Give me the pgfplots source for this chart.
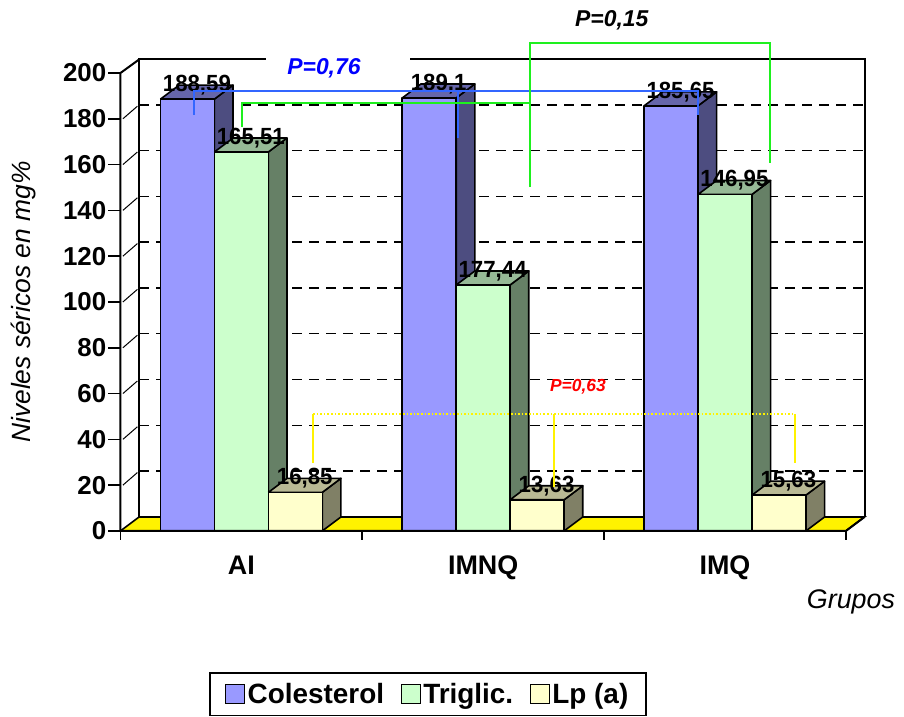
\documentclass[border=0pt]{standalone}
\usepackage{fontspec}
\setmainfont{Liberation Sans}
\usepackage{pgfplots}
\pgfplotsset{compat=1.18}

\definecolor{colF}{RGB}{153,153,255}
\definecolor{colS}{RGB}{77,77,128}
\definecolor{colT}{RGB}{102,102,170}
\definecolor{triF}{RGB}{204,255,204}
\definecolor{triS}{RGB}{102,128,102}
\definecolor{triT}{RGB}{150,185,150}
\definecolor{lpF}{RGB}{255,255,204}
\definecolor{lpS}{RGB}{128,128,102}
\definecolor{lpT}{RGB}{185,185,148}
\definecolor{pblue}{RGB}{51,102,255}
\definecolor{pgreen}{RGB}{30,240,30}

\newcommand{\dx}{0.077}
\newcommand{\dy}{6.1}
\newcommand{\bw}{0.2231}

% #1 left x, #2 height, #3 front, #4 side, #5 top
\newcommand{\cuboid}[5]{%
  \pgfmathsetmacro\xa{#1}%
  \pgfmathsetmacro\xb{#1+\bw}%
  \pgfmathsetmacro\xc{#1+\bw+\dx}%
  \pgfmathsetmacro\xd{#1+\dx}%
  \pgfmathsetmacro\yt{#2+\dy}%
  \addplot[fill=#4, draw=black, line width=1.6bp, line join=round] coordinates {(\xb,0) (\xb,#2) (\xc,\yt) (\xc,\dy) (\xb,0)};
  \addplot[fill=#5, draw=black, line width=1.6bp, line join=round] coordinates {(\xa,#2) (\xb,#2) (\xc,\yt) (\xd,\yt) (\xa,#2)};
  \addplot[fill=#3, draw=black, line width=1.6bp, line join=round] coordinates {(\xa,0) (\xa,#2) (\xb,#2) (\xb,0) (\xa,0)};
}

\begin{document}
\begin{tikzpicture}
\begin{axis}[
  name=ax,
  scale only axis, width=725.5bp, height=458bp,
  xmin=-0.5, xmax=2.5, ymin=0, ymax=200,
  clip=false,
  axis line style={draw=none},
  ytick={0,20,...,200}, ytick pos=left, tick align=outside,
  ytick style={black, line width=1.6bp}, major tick length=12bp,
  xtick={0,1,2}, xticklabels={AI,IMNQ,IMQ}, xtick style={draw=none}, xtick pos=bottom,
  /pgf/number format/assume math mode=true,
  yticklabel style={font=\bfseries\fontsize{26}{26}\selectfont, anchor=east, inner sep=0pt, xshift=-2bp},
  xticklabel style={font=\bfseries\fontsize{27}{27}\selectfont, anchor=base, inner sep=0pt, yshift=-32bp},
  ylabel={Niveles séricos en mg\%},
  every axis y label/.style={at={(axis description cs:-0.133,0.5)}, rotate=90, anchor=center, font=\itshape\fontsize{26.5}{26.5}\selectfont},
  xlabel={Grupos},
  every axis x label/.style={at={(axis description cs:1.007,-0.155)}, anchor=center, font=\itshape\fontsize{27}{27}\selectfont},
  legend style={at={(axis description cs:0.4238,-0.308)}, anchor=north, draw=black, line width=1.6bp,
    font=\bfseries\fontsize{28}{28}\selectfont, inner xsep=15bp, inner ysep=8bp,
    nodes={inner sep=2.5bp},
    /tikz/every even column/.append style={column sep=14bp}},
  legend columns=3,
  legend image code/.code={\draw[#1, draw=black, line width=1.2bp] (0bp,-9bp) rectangle (19bp,10bp);},
]
\addlegendimage{fill=colF}\addlegendentry{Colesterol}
\addlegendimage{fill=triF}\addlegendentry{Triglic.}
\addlegendimage{fill=lpF}\addlegendentry{Lp (a)}

% floor
\addplot[fill=yellow, draw=black, line width=1.6bp] coordinates {(-0.5,0) (2.5,0) (2.577,6.1) (-0.423,6.1) (-0.5,0)};
% back wall gridlines
\addplot[black, line width=1.4bp, dash pattern=on 10bp off 7bp] coordinates {(-0.423,26.1) (2.577,26.1)};
\addplot[black, line width=1.4bp, dash pattern=on 10bp off 7bp] coordinates {(-0.423,46.1) (2.577,46.1)};
\addplot[black, line width=1.4bp, dash pattern=on 10bp off 7bp] coordinates {(-0.423,66.1) (2.577,66.1)};
\addplot[black, line width=1.4bp, dash pattern=on 10bp off 7bp] coordinates {(-0.423,86.1) (2.577,86.1)};
\addplot[black, line width=1.4bp, dash pattern=on 10bp off 7bp] coordinates {(-0.423,106.1) (2.577,106.1)};
\addplot[black, line width=1.4bp, dash pattern=on 10bp off 7bp] coordinates {(-0.423,126.1) (2.577,126.1)};
\addplot[black, line width=1.4bp, dash pattern=on 10bp off 7bp] coordinates {(-0.423,146.1) (2.577,146.1)};
\addplot[black, line width=1.4bp, dash pattern=on 10bp off 7bp] coordinates {(-0.423,166.1) (2.577,166.1)};
\addplot[black, line width=1.4bp, dash pattern=on 10bp off 7bp] coordinates {(-0.423,186.1) (2.577,186.1)};
% diagonal tick connectors
\addplot[black, line width=1bp] coordinates {(-0.49,20) (-0.43,25.5)};
\addplot[black, line width=1bp] coordinates {(-0.49,40) (-0.43,45.5)};
\addplot[black, line width=1bp] coordinates {(-0.49,60) (-0.43,65.5)};
\addplot[black, line width=1bp] coordinates {(-0.49,80) (-0.43,85.5)};
\addplot[black, line width=1bp] coordinates {(-0.49,100) (-0.43,105.5)};
\addplot[black, line width=1bp] coordinates {(-0.49,120) (-0.43,125.5)};
\addplot[black, line width=1bp] coordinates {(-0.49,140) (-0.43,145.5)};
\addplot[black, line width=1bp] coordinates {(-0.49,160) (-0.43,165.5)};
\addplot[black, line width=1bp] coordinates {(-0.49,180) (-0.43,185.5)};
% back wall frame
\addplot[black, line width=2bp] coordinates {(-0.423,6.1) (-0.423,205.9) (2.577,205.9) (2.577,6.1)};

% bars: AI
\cuboid{-0.3347}{188.59}{colF}{colS}{colT}
\cuboid{-0.1116}{165.51}{triF}{triS}{triT}
\cuboid{0.1116}{16.85}{lpF}{lpS}{lpT}
% IMNQ
\cuboid{0.6653}{189.1}{colF}{colS}{colT}
\cuboid{0.8884}{107.44}{triF}{triS}{triT}
\cuboid{1.1116}{13.63}{lpF}{lpS}{lpT}
% IMQ
\cuboid{1.6653}{185.65}{colF}{colS}{colT}
\cuboid{1.8884}{146.95}{triF}{triS}{triT}
\cuboid{2.1116}{15.63}{lpF}{lpS}{lpT}

% front axis lines
\addplot[black, line width=2bp] coordinates {(-0.5,0) (-0.5,200) (-0.423,205.9)};
\addplot[black, line width=2bp] coordinates {(-0.5,0) (2.5,0) (2.577,6.1)};
\addplot[black, line width=1.6bp] coordinates {(-0.5,0) (-0.5,-3.8)};
\addplot[black, line width=1.6bp] coordinates {(0.5,0) (0.5,-3.8)};
\addplot[black, line width=1.6bp] coordinates {(1.5,0) (1.5,-3.8)};
\addplot[black, line width=1.6bp] coordinates {(2.5,0) (2.5,-3.8)};

% data labels
\tikzset{dlabel/.style={font=\bfseries\fontsize{23.5}{23.5}\selectfont, inner sep=0pt}}
\node[dlabel] at (axis cs:-0.184,194.69) {\scalebox{0.95}[1]{188,59}};
\node[dlabel] at (axis cs:0.039,171.61) {\scalebox{0.95}[1]{165,51}};
\node[dlabel] at (axis cs:0.262,22.95) {\scalebox{0.95}[1]{16,85}};
\node[dlabel] at (axis cs:0.816,195.2) {\scalebox{0.95}[1]{189,1}};
\node[dlabel] at (axis cs:1.039,113.54) {\scalebox{0.95}[1]{177,44}};
\node[dlabel] at (axis cs:1.262,19.73) {\scalebox{0.95}[1]{13,63}};
\node[dlabel] at (axis cs:1.816,191.75) {\scalebox{0.95}[1]{185,65}};
\node[dlabel] at (axis cs:2.039,153.05) {\scalebox{0.95}[1]{146,95}};
\node[dlabel] at (axis cs:2.262,21.73) {\scalebox{0.95}[1]{15,63}};

% significance brackets
\addplot[pblue, line width=2bp] coordinates {(-0.196,181.7) (-0.196,192.1) (1.888,192.1) (1.888,181.7)};
\addplot[pblue, line width=2bp] coordinates {(0.896,192.1) (0.896,171.6)};
\addplot[pgreen, line width=2bp] coordinates {(0.0024,176.4) (0.0024,186.9) (1.193,186.9)};
\addplot[pgreen, line width=2bp] coordinates {(1.193,150.2) (1.193,213.1) (2.186,213.1) (2.186,160.7)};
\addplot[yellow, line width=1.6bp, dash pattern=on 1.6bp off 2bp] coordinates {(0.296,51.1) (2.289,51.1)};
\addplot[yellow, line width=1.6bp] coordinates {(0.296,51.1) (0.296,29.7)};
\addplot[yellow, line width=1.6bp] coordinates {(1.293,51.1) (1.293,19.2)};
\addplot[yellow, line width=1.6bp] coordinates {(2.289,51.1) (2.289,29.7)};

\fill[white] (axis cs:0.1017,194.8) rectangle (axis cs:0.697,210.5);
\node[font=\bfseries\itshape\fontsize{23}{23}\selectfont, text=blue, inner sep=0pt] at (axis cs:0.3415,202.2) {P=0,76};
\node[font=\bfseries\itshape\fontsize{23}{23}\selectfont, text=black, inner sep=0pt] at (axis cs:1.532,223.1) {P=0,15};
\node[font=\bfseries\itshape\fontsize{17.5}{17.5}\selectfont, text=red, inner sep=0pt] at (axis cs:1.392,62.9) {P=0,63};

\coordinate (bl) at (axis description cs:-0.1661,-0.4061);
\coordinate (tr) at (axis description cs:1.0801,1.1594);
\end{axis}
\pgfresetboundingbox
\useasboundingbox (bl) rectangle (tr);
\end{tikzpicture}
\end{document}
